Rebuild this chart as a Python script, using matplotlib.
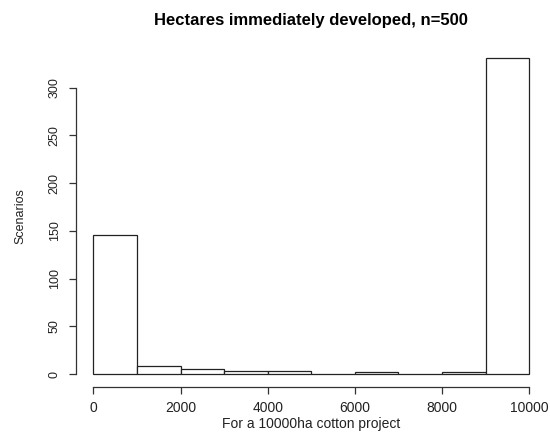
import numpy as np
import matplotlib.pyplot as plt

plt.rcParams['font.family'] = ['Liberation Sans', 'DejaVu Sans']

# histogram bins (hectares) and counts per bin, n=500
bin_edges = [0, 1000, 2000, 3000, 4000, 5000, 6000, 7000, 8000, 9000, 10000]
counts = [146, 8, 5, 3, 3, 0, 2, 0, 2, 331]
x_ticks = [0, 2000, 4000, 6000, 8000, 10000]
y_ticks = [0, 50, 100, 150, 200, 250, 300]

fig = plt.figure(figsize=(5.5, 4.41), dpi=100)
ax = fig.add_axes([0.138, 0.123, 0.856, 0.774])

edges = np.array(bin_edges)
ax.bar(edges[:-1], counts, width=np.diff(edges), align='edge',
       facecolor='white', edgecolor='#222222', linewidth=0.9)

# R-style axis ranges (4% padding)
ymax = max(counts)
ax.set_xlim(-0.04 * 10000, 10000 * 1.04)
ax.set_ylim(-0.04 * ymax, ymax * 1.04)

for s in ['top', 'right']:
    ax.spines[s].set_visible(False)
ax.spines['left'].set_bounds(0, 300)
ax.spines['bottom'].set_bounds(0, 10000)
for s in ['left', 'bottom']:
    ax.spines[s].set_color('#333333')
    ax.spines[s].set_linewidth(0.9)

ax.set_xticks(x_ticks)
ax.set_yticks(y_ticks)
ax.set_yticklabels([str(v) for v in y_ticks], rotation=90, va='center')
ax.tick_params(axis='both', length=5, width=0.9, color='#333333',
               labelcolor='#222222')
ax.tick_params(axis='x', labelsize=10, pad=5)
ax.tick_params(axis='y', labelsize=9, pad=6)

ax.set_title("Hectares immediately developed, n=500", fontsize=12,
             fontweight='bold', pad=15)
ax.set_xlabel("For a 10000ha cotton project", fontsize=10, color='#222222',
              labelpad=2)
ax.set_ylabel("Scenarios", fontsize=9, color='#222222', labelpad=16)

fig.savefig("out.png", dpi=100, facecolor='white')
